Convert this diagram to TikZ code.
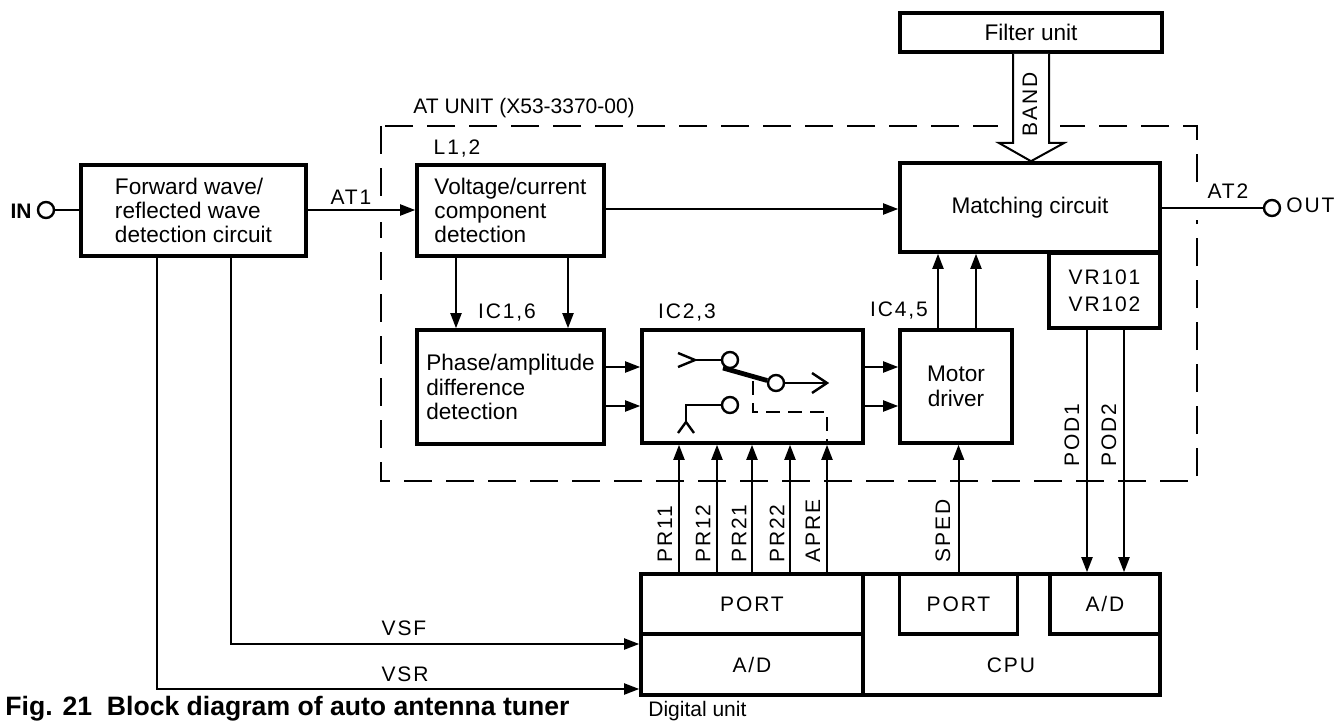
\documentclass[tikz,border=0pt]{standalone}
\usepackage{fontspec}
\setmainfont{Liberation Sans}
\newfontfamily\sigfont[LetterSpace=9]{Liberation Sans}
\usetikzlibrary{arrows.meta,calc,positioning}
\tikzset{
  block/.style={draw,line width=1.8pt,fill=white,inner sep=0pt,font=\fontsize{11.3}{12.2}\selectfont},
  sigblock/.style={block,font=\sigfont\fontsize{10.5}{13.5}\selectfont},
  sig/.style={line width=1pt,-{Stealth[length=7.5pt,width=5.5pt,inset=0pt]}},
  wire/.style={line width=1pt},
  label/.style={font=\sigfont\fontsize{10.5}{12}\selectfont,inner sep=0pt},
  term/.style={circle,draw,line width=1.2pt,fill=white,inner sep=0pt,minimum size=8pt}
}
\begin{document}
\begin{tikzpicture}[x=0.5pt,y=-0.5pt]
\useasboundingbox (0,0) rectangle (1338,722);
%AT Unit
\draw[line width=1pt,dash pattern=on 14pt off 7pt] (381,126) rectangle (1197,481);
\fill[white] (998,120) rectangle (1060,134);
\fill[white] (375,196) rectangle (390,222);
\fill[white] (1190,184) rectangle (1204,220);
\node[label,anchor=west,font=\fontsize{10.5}{12}\selectfont] (atname) at (413,108) {AT UNIT (X53-3370-00)};
%Bloecke
\node[block,minimum width=112.5pt,minimum height=45.5pt,align=left] (fwd) at (193.5,210.5) {Forward wave/\\reflected wave\\detection circuit};
\node[block,minimum width=93.5pt,minimum height=45.5pt,align=left] (volt) at (510.5,210.5) {Voltage/current\\component\\detection};
\node[block,minimum width=93.5pt,minimum height=57pt,align=left] (phase) at (510.5,387) {Phase/amplitude\\difference\\detection};
\node[block,minimum width=110.5pt,minimum height=56.5pt] (sw) at (752.5,386.5) {};
\node[block,minimum width=56pt,minimum height=56.5pt,align=center] (motor) at (956,386.5) {Motor\\driver};
\node[block,minimum width=130pt,minimum height=44.5pt] (match) at (1030,207.5) {Matching circuit\hspace{3pt}};
\node[block,minimum width=131pt,minimum height=19.5pt] (filter) at (1031,32.5) {Filter unit\hspace{7pt}};
\node[sigblock,minimum width=55.5pt,minimum height=37.5pt,align=center] (vr) at (1104.5,290.5) {VR101\\VR102};
\node[sigblock,minimum width=111pt,minimum height=30pt] (portl) at (752,604) {PORT};
\node[sigblock,minimum width=111pt,minimum height=30.5pt] (adl) at (752,664.5) {A/D};
\node[block,minimum width=148.5pt,minimum height=60.5pt] (cpu) at (1011.5,634.5) {};
\node[label] (cpuname) at (1011,665) {CPU};
\node[sigblock,minimum width=59pt,minimum height=30pt] (portr) at (958.5,604) {PORT};
\node[sigblock,minimum width=55pt,minimum height=30pt] (adr) at (1105,604) {A/D};
%Anschluesse
\node[term] (in) at (46,210) {};
\node[label,anchor=east,font=\bfseries\fontsize{10.5}{12}\selectfont] (inname) at (32,211) {IN};
\node[term] (out) at (1272,208) {};
\node[label,anchor=west] (outname) at (1286,205) {OUT};
\draw[wire] (in) -- (in -| fwd.west);
\draw[wire] (match.east |- out) -- (out);
\draw[sig] (fwd.east |- 0,210) -- (volt.west |- 0,210);
\draw[sig] (volt.east |- 0,209) -- (match.west |- 0,209);
\node[label] (at1) at (351,197) {AT1};
\node[label] (at2) at (1228,191) {AT2};
%Bandpfeil
\draw[line width=1pt,fill=white] (filter.south -| 1013,0) -- (1013,143) -- (999,143) -- (match.north -| 1031,0) -- (1064,143) -- (1049,143) -- (filter.south -| 1049,0);
\node[label,rotate=90] (band) at (1030,104) {BAND};
%Pfeile zwischen den Bloecken
\foreach \x in {456,568}{
\draw[sig] (volt.south -| \x,0) -- (phase.north -| \x,0);
}
\foreach \y in {367,406}{
\draw[sig] (phase.east |- 0,\y) -- (sw.west |- 0,\y);
\draw[sig] (sw.east |- 0,\y) -- (motor.west |- 0,\y);
}
\foreach \x in {938,976}{
\draw[sig] (motor.north -| \x,0) -- (match.south -| \x,0);
}
\foreach \x/\xt/\name in {679/665/PR11,717/703/PR12,752/739/PR21,790/777/PR22,827/813/APRE}{
\draw[sig] (portl.north -| \x,0) -- (sw.south -| \x,0);
\node[label,rotate=90,anchor=west] at (\xt,563) {\name};
}
\draw[sig] (portr.north) -- (motor.south -| portr.north);
\node[label,rotate=90,anchor=west] (sped) at (943,563) {SPED};
\foreach \x/\xt/\name in {1087/1072/POD1,1124/1109/POD2}{
\draw[sig] (vr.south -| \x,0) -- (adr.north -| \x,0);
\node[label,rotate=90,anchor=west] at (\xt,467) {\name};
}
%Schalter
\node[term] (sa) at (730,360) {};
\node[term] (sb) at (776,383) {};
\node[term] (sc) at (730,405) {};
\coordinate (ta) at (695,360);
\coordinate (tc) at (686,422);
\draw[line width=1.2pt] (678,353) -- (ta) -- (678,367);
\draw[wire] (ta) -- (sa);
\draw[wire] (sc) -- (tc |- sc) -- (tc);
\draw[line width=1.2pt] (678,433) -- (tc) -- (694,433);
\draw[line width=2.4pt] (723,368) -- (sb);
\draw[wire] (sb) -- (827,383);
\draw[line width=1.2pt] (812,373) -- (827,383) -- (812,393);
\draw[wire,dash pattern=on 7pt off 4pt] (753,381) -- (753,412) -- (827,412) -- (sw.south -| 827,0);
%Leitungen zum Digitalteil
\draw[sig] (fwd.south -| 231,0) -- (231,644) -- (adl.west |- 0,644);
\draw[sig] (fwd.south -| 157,0) -- (157,689) -- (adl.west |- 0,689);
\node[label] (vsf) at (404,628) {VSF};
\node[label] (vsr) at (405,674) {VSR};
%Texte
\node[label] (l12) at (457,149) {L1,2};
\node[label] (ic16) at (507,313) {IC1,6};
\node[label] (ic23) at (687,313) {IC2,3};
\node[label] (ic45) at (899,311) {IC4,5};
\node[inner sep=0pt,anchor=base west,font=\fontsize{10.5}{12}\selectfont] (digi) at (648,716) {Digital unit};
\node[inner sep=0pt,anchor=base west,font=\bfseries\fontsize{13.3}{15}\selectfont] (fig) at (5,715) {Fig. 21\ \ Block diagram of auto antenna tuner};
\end{tikzpicture}
\end{document}
